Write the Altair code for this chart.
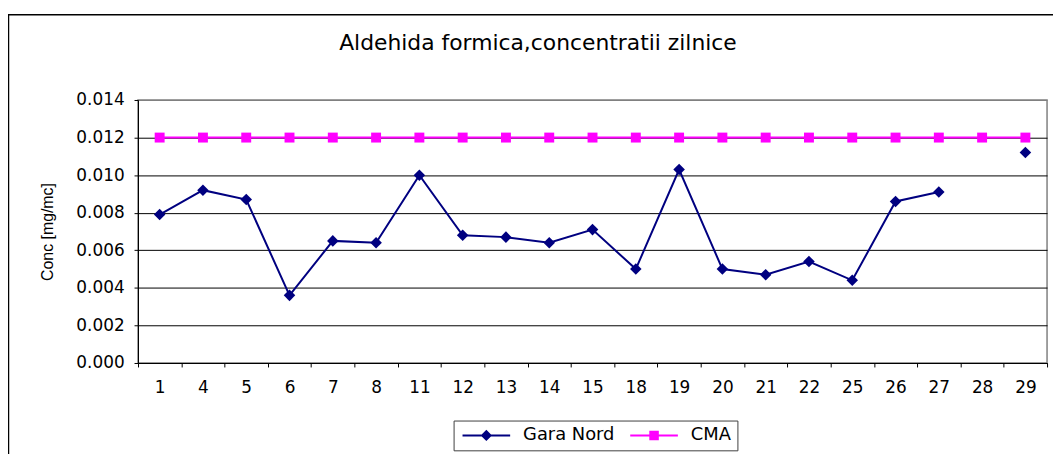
import altair as alt
import pandas as pd

# ---- data ----
days = ["1", "4", "5", "6", "7", "8", "11", "12", "13", "14", "15",
        "18", "19", "20", "21", "22", "25", "26", "27", "28", "29"]
gara_nord = [0.0079, 0.0092, 0.0087, 0.0036, 0.0065, 0.0064, 0.0100, 0.0068,
             0.0067, 0.0064, 0.0071, 0.0050, 0.0103, 0.0050, 0.0047, 0.0054,
             0.0044, 0.0086, 0.0091, None, 0.0112]
cma = [0.012, 0.012, 0.012, 0.012, 0.012, 0.012, 0.012, 0.012, 0.012, 0.012,
       0.012, 0.012, 0.012, 0.012, 0.012, 0.012, 0.012, 0.012, 0.012, 0.012,
       0.012]
series_names = ["Gara Nord", "CMA"]
series_colors = ["#000080", "#FF00FF"]
y_ticks = [0.0, 0.002, 0.004, 0.006, 0.008, 0.010, 0.012, 0.014]
title_text = "Aldehida formica,concentratii zilnice"
y_title = "Conc [mg/mc]"

rows = []
for d, v in zip(days, gara_nord):
    rows.append({"day": d, "series": "Gara Nord", "value": v})
for d, v in zip(days, cma):
    rows.append({"day": d, "series": "CMA", "value": v})
df = pd.DataFrame(rows)

W, H = 916, 265
FONT = "DejaVu Sans"

x_enc = alt.X(
    "day:N", sort=days,
    scale=alt.Scale(type="band", domain=days, paddingInner=0, paddingOuter=0),
    axis=alt.Axis(title=None, tickBand="extent", labelAngle=0, labelPadding=13,
                  grid=False),
)
y_enc = alt.Y(
    "value:Q",
    scale=alt.Scale(domain=[0, 0.014], nice=False, zero=True),
    axis=alt.Axis(values=y_ticks, format=".3f", title=y_title, grid=True,
                  gridColor=alt.condition("datum.value > 0.0135",
                                          alt.value("#808080"),
                                          alt.value("#000000")),
                  labelOverlap=False,
                  gridWidth=1, labelPadding=10, titlePadding=20,
                  titleFont="Liberation Sans", titleFontSize=16,
                  titleFontWeight="normal", titleColor="black"),
)

border = alt.Chart(pd.DataFrame({"k": [0]})).mark_rect(
    fillOpacity=0, stroke="black", strokeWidth=1.5
).encode(x=alt.value(-130.5), x2=alt.value(1100), y=alt.value(-86), y2=alt.value(500))

base = alt.Chart(df)

cma_line = base.transform_filter("datum.series == 'CMA'").mark_line(
    strokeWidth=2, color="#FF00FF"
).encode(x=x_enc, y=y_enc)

gn_line = base.transform_filter("datum.series == 'Gara Nord'").mark_line(
    strokeWidth=2, color="#000080", invalid="break-paths-show-domains"
).encode(x=x_enc, y=y_enc)

gn_pts = base.transform_filter(
    "datum.series == 'Gara Nord' && isValid(datum.value)"
).mark_point(shape="diamond", filled=True, size=135, color="#000080", opacity=1).encode(
    x=x_enc, y=y_enc)

cma_pts = base.transform_filter("datum.series == 'CMA'").mark_point(
    shape="square", filled=True, size=100, color="#FF00FF", opacity=1
).encode(x=x_enc, y=y_enc)

# legend glyphs: a short line with the marker in its middle (unit = 6 px)
path_gn = "M-1,-0.17H7V0.17H-1ZM3,-0.95L3.95,0L3,0.95L2.05,0Z"
path_cma = "M-1,-0.17H7V0.17H-1ZM2.2,-0.8H3.8V0.8H2.2Z"

leg = alt.Legend(title=None, orient="none", legendX=318, legendY=323,
                 direction="horizontal", strokeColor="#404040", padding=6,
                 labelFont=FONT, labelFontSize=18, labelColor="black",
                 labelOffset=46, columnPadding=12, symbolSize=144,
                 symbolStrokeWidth=0, fillColor="white")

legend_layer = base.transform_filter("false").mark_point(
    filled=True, size=144, strokeWidth=0, opacity=1
).encode(
    x=x_enc, y=y_enc,
    shape=alt.Shape("series:N", scale=alt.Scale(domain=series_names,
                                                range=[path_gn, path_cma]), legend=leg),
    fill=alt.Fill("series:N", scale=alt.Scale(domain=series_names, range=series_colors),
                  legend=leg),
)

chart = alt.layer(border, cma_line, gn_line, cma_pts, gn_pts, legend_layer).properties(
    width=W, height=H,
    title=alt.TitleParams(title_text, font=FONT, fontSize=22, fontWeight="normal",
                          color="black", anchor="middle", frame="group", dx=-55,
                          offset=-58, baseline="alphabetic"),
    autosize=alt.AutoSizeParams(type="none"),
    padding={"left": 131, "top": 91, "right": 6, "bottom": 90},
    background="white",
).configure_axis(
    labelFont=FONT, labelFontSize=17, labelColor="black",
    domainColor="black", domainWidth=1, tickColor="black", tickSize=4, tickWidth=1,
).configure_view(stroke="#808080", strokeWidth=1.5)

chart.save("out.html", embed_options={"renderer": "svg", "actions": False})
